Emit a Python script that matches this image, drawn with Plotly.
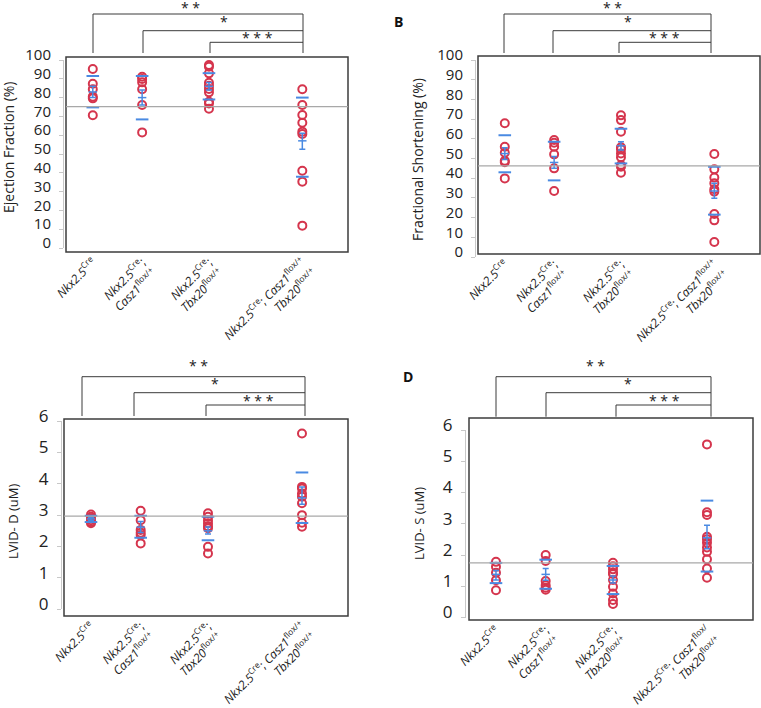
import plotly.graph_objects as go

W, H = 761, 708

# ---------------- data ----------------
categories = [
    "<i>Nkx2.5</i><sup>Cre</sup>",
    "<i>Nkx2.5</i><sup>Cre</sup>;<br><i>Casz1</i><sup>flox/+</sup>",
    "<i>Nkx2.5</i><sup>Cre</sup>;<br><i>Tbx20</i><sup>flox/+</sup>",
    "<i>Nkx2.5</i><sup>Cre</sup>; <i>Casz1</i><sup>flox/+</sup><br><i>Tbx20</i><sup>flox/+</sup>",
]
categories_D = categories[:3] + [
    "<i>Nkx2.5</i><sup>Cre</sup>; <i>Casz1</i><sup>flox/</sup><br><i>Tbx20</i><sup>flox/+</sup>"
]

A_vals = [
    [95.2, 87.4, 84.4, 80.5, 79.6, 70.6],
    [91.1, 89.9, 88.1, 84.4, 76.1, 61.5],
    [97.3, 96.4, 92.9, 87.9, 86.3, 84.6, 82.8, 77.8, 76.9, 74.1],
    [84.4, 76.1, 70.7, 66.6, 61.9, 60.6, 41.1, 35.3, 11.9],
]
A_mean = [83.0, 80.0, 86.0, 57.0]
A_sem_hi = [86.0, 84.0, 88.0, 61.0]
A_sem_lo = [80.0, 76.0, 84.0, 52.5]
A_sd_hi = [91.5, 91.5, 93.0, 80.0]
A_sd_lo = [74.8, 68.4, 79.0, 37.9]
A_ref = 75.2

B_vals = [
    [67.9, 56.0, 52.9, 48.9, 48.1, 39.9],
    [59.4, 58.0, 56.0, 52.1, 45.0, 33.5],
    [71.9, 69.5, 63.6, 55.7, 54.7, 52.6, 50.6, 46.7, 45.8, 42.8],
    [52.3, 44.5, 40.3, 37.4, 34.4, 33.2, 21.8, 18.6, 7.6],
]
B_mean = [52.5, 48.0, 56.5, 33.5]
B_sem_hi = [55.5, 51.0, 58.5, 37.4]
B_sem_lo = [49.5, 45.0, 54.3, 29.8]
B_sd_hi = [61.8, 58.5, 65.1, 45.8]
B_sd_lo = [43.0, 38.9, 47.5, 21.5]
B_ref = 46.3

C_vals = [
    [3.02, 2.95, 2.90, 2.84, 2.78, 2.74],
    [3.14, 2.84, 2.53, 2.44, 2.37, 2.10],
    [3.06, 2.95, 2.84, 2.74, 2.65, 2.58, 1.99, 1.78],
    [5.60, 3.90, 3.85, 3.69, 3.59, 3.38, 3.00, 2.76, 2.63],
]
C_mean = [2.88, 2.62, 2.50, 3.55]
C_sem_hi = [2.92, 2.80, 2.62, 3.90]
C_sem_lo = [2.83, 2.45, 2.40, 3.35]
C_sd_hi = [2.98, 2.98, 2.95, 4.36]
C_sd_lo = [2.78, 2.28, 2.20, 2.75]
C_ref = 2.97

D_vals = [
    [1.78, 1.62, 1.43, 1.19, 0.87],
    [2.00, 1.81, 1.17, 1.03, 0.95, 0.89],
    [1.75, 1.64, 1.54, 1.43, 1.39, 1.20, 0.98, 0.77, 0.56, 0.43],
    [5.54, 3.37, 3.28, 2.58, 2.50, 2.39, 2.24, 2.10, 1.86, 1.57, 1.27],
]
D_mean = [1.38, 1.38, 1.20, 2.55]
D_sem_hi = [1.50, 1.57, 1.33, 2.95]
D_sem_lo = [1.20, 1.19, 1.10, 2.20]
D_sd_hi = [1.75, 1.85, 1.65, 3.74]
D_sd_lo = [1.10, 0.92, 0.75, 1.47]
D_ref = 1.75

A_title = "Ejection Fraction (%)"
B_title = "Fractional Shortening (%)"
C_title = "LVID- D (uM)"
D_title = "LVID- S (uM)"
sig_labels = ["* *", "*", "* * *"]

# ---------------- layout constants (pixels) ----------------
group_pos = [0.095, 0.27, 0.507, 0.838]
RED = "#d5354d"
BLUE = "#4a8ae2"
FONT = "Open Sans"

panels = [
    dict(name="A", vals=A_vals, mean=A_mean, sem_hi=A_sem_hi, sem_lo=A_sem_lo,
         sd_hi=A_sd_hi, sd_lo=A_sd_lo, ref=A_ref, cats=categories, title=A_title,
         box=(66, 57, 348, 252), axis_x=63, y0=248, ytop=60, ymax=100, dtick=10,
         tfs=15, title_xy=(9, 148), title_fs=14,
         br_right=303, br_bottom=53, br_levels=[(93, 14), (143, 30.7), (210, 42.3)],
         sig_xy=[(190, 7), (224, 22), (257, 37)], letter=None),
    dict(name="B", vals=B_vals, mean=B_mean, sem_hi=B_sem_hi, sem_lo=B_sem_lo,
         sd_hi=B_sd_hi, sd_lo=B_sd_lo, ref=B_ref, cats=categories, title=B_title,
         box=(478, 56, 760, 254), axis_x=475, y0=257, ytop=60, ymax=100, dtick=10,
         tfs=15, title_xy=(417, 160), title_fs=14,
         br_right=711, br_bottom=53, br_levels=[(504, 14), (553, 30.7), (619, 42.3)],
         sig_xy=[(612, 7), (628, 22), (664, 37)], letter=("B", 398, 22)),
    dict(name="C", vals=C_vals, mean=C_mean, sem_hi=C_sem_hi, sem_lo=C_sem_lo,
         sd_hi=C_sd_hi, sd_lo=C_sd_lo, ref=C_ref, cats=categories, title=C_title,
         box=(64, 419, 348, 616), axis_x=61, y0=609.3, ytop=421, ymax=6, dtick=1,
         tfs=17, title_xy=(13, 522), title_fs=13,
         br_right=305, br_bottom=416, br_levels=[(82, 376.7), (134, 392.7), (206, 405)],
         sig_xy=[(198, 366), (215, 383), (258, 400)], letter=None),
    dict(name="D", vals=D_vals, mean=D_mean, sem_hi=D_sem_hi, sem_lo=D_sem_lo,
         sd_hi=D_sd_hi, sd_lo=D_sd_lo, ref=D_ref, cats=categories_D, title=D_title,
         box=(469, 418, 753, 620), axis_x=465, y0=617.5, ytop=430, ymax=6, dtick=1,
         tfs=17, title_xy=(419, 523), title_fs=13,
         br_right=711, br_bottom=416.7, br_levels=[(496, 376.7), (546, 392.7), (616, 405)],
         sig_xy=[(595, 366), (628, 383), (664, 400)], letter=("D", 408, 376)),
]


def px(x):
    return x / W


def py(y):
    return 1 - y / H


fig = go.Figure()
shapes = []
annotations = []
layout = {}

for i, p in enumerate(panels):
    k = "" if i == 0 else str(i + 1)
    xa, ya = "x" + k, "y" + k
    l, t, r, b = p["box"]

    xs, ys = [], []
    for g, vals in enumerate(p["vals"]):
        xs += [group_pos[g]] * len(vals)
        ys += vals
    fig.add_trace(go.Scatter(
        x=xs, y=ys, mode="markers", xaxis=xa, yaxis=ya, showlegend=False,
        marker=dict(symbol="circle-open", size=8, color=RED, line=dict(width=2, color=RED)),
        cliponaxis=False))
    fig.add_trace(go.Scatter(
        x=group_pos + group_pos, y=p["sd_hi"] + p["sd_lo"], mode="markers",
        xaxis=xa, yaxis=ya, showlegend=False, cliponaxis=False,
        marker=dict(symbol="line-ew", size=9, line=dict(width=2, color=BLUE))))
    fig.add_trace(go.Scatter(
        x=group_pos, y=p["mean"], mode="markers", xaxis=xa, yaxis=ya,
        showlegend=False, cliponaxis=False,
        marker=dict(symbol="line-ew", size=6, line=dict(width=1.5, color=BLUE)),
        error_y=dict(type="data", symmetric=False,
                     array=[h - m for h, m in zip(p["sem_hi"], p["mean"])],
                     arrayminus=[m - lo for m, lo in zip(p["mean"], p["sem_lo"])],
                     color=BLUE, thickness=1.5, width=3)))

    layout["xaxis" + k] = dict(
        domain=[px(l), px(r)], range=[0, 1], anchor="free", position=py(b),
        automargin=False,
        showline=False, showgrid=False, zeroline=False, ticks="",
        tickmode="array", tickvals=group_pos, ticktext=p["cats"],
        tickangle=-45, tickfont=dict(family=FONT, size=12, color="#222222"),
        fixedrange=True)
    layout["yaxis" + k] = dict(
        domain=[py(p["y0"]), py(p["ytop"])], range=[0, p["ymax"]],
        anchor="free", position=px(p["axis_x"]), automargin=False,
        showline=True, linecolor="#c8c8c8", linewidth=1,
        ticks="outside", ticklen=4, tickcolor="#c8c8c8",
        tickmode="linear", tick0=0, dtick=p["dtick"],
        showgrid=False, zeroline=False, ticklabelshift=-5, ticklabelstandoff=5,
        tickfont=dict(family=FONT, size=p["tfs"], color="#222222"),
        fixedrange=True)

    shapes.append(dict(type="rect", xref="paper", yref="paper",
                       x0=px(l), x1=px(r), y0=py(b), y1=py(t),
                       line=dict(color="#3c3c3c", width=1.5)))
    shapes.append(dict(type="line", xref=xa, yref=ya, x0=0, x1=1,
                       y0=p["ref"], y1=p["ref"],
                       line=dict(color="#a8a8a8", width=1.2)))
    R, Bt = p["br_right"], p["br_bottom"]
    top_y = p["br_levels"][0][1]
    shapes.append(dict(type="line", xref="paper", yref="paper",
                       x0=px(R), x1=px(R), y0=py(top_y), y1=py(Bt),
                       line=dict(color="#3a3a3a", width=1)))
    for (bx, by) in p["br_levels"]:
        path = "M {} {} L {} {} L {} {}".format(px(bx), py(Bt), px(bx), py(by), px(R), py(by))
        shapes.append(dict(type="path", xref="paper", yref="paper", path=path,
                           line=dict(color="#3a3a3a", width=1)))
    for lab, (sx, sy) in zip(sig_labels, p["sig_xy"]):
        annotations.append(dict(text=lab, xref="paper", yref="paper", x=px(sx), y=py(sy),
                                xanchor="center", yanchor="middle", showarrow=False,
                                font=dict(family=FONT, size=14, color="#222222")))
    tx, ty = p["title_xy"]
    annotations.append(dict(text=p["title"], xref="paper", yref="paper", x=px(tx), y=py(ty),
                            xanchor="center", yanchor="middle", textangle=-90,
                            showarrow=False,
                            font=dict(family=FONT, size=p["title_fs"], color="#222222")))
    if p["letter"]:
        lt, lx, ly = p["letter"]
        annotations.append(dict(text="<b>" + lt + "</b>", xref="paper", yref="paper",
                                x=px(lx), y=py(ly), xanchor="center", yanchor="middle",
                                showarrow=False,
                                font=dict(family=FONT, size=14, color="#111111")))

fig.update_layout(
    width=W, height=H, margin=dict(l=0, r=0, t=0, b=0, autoexpand=False),
    paper_bgcolor="white", plot_bgcolor="rgba(0,0,0,0)",
    shapes=shapes, annotations=annotations, showlegend=False,
    **layout)

fig.write_html("out.html")
